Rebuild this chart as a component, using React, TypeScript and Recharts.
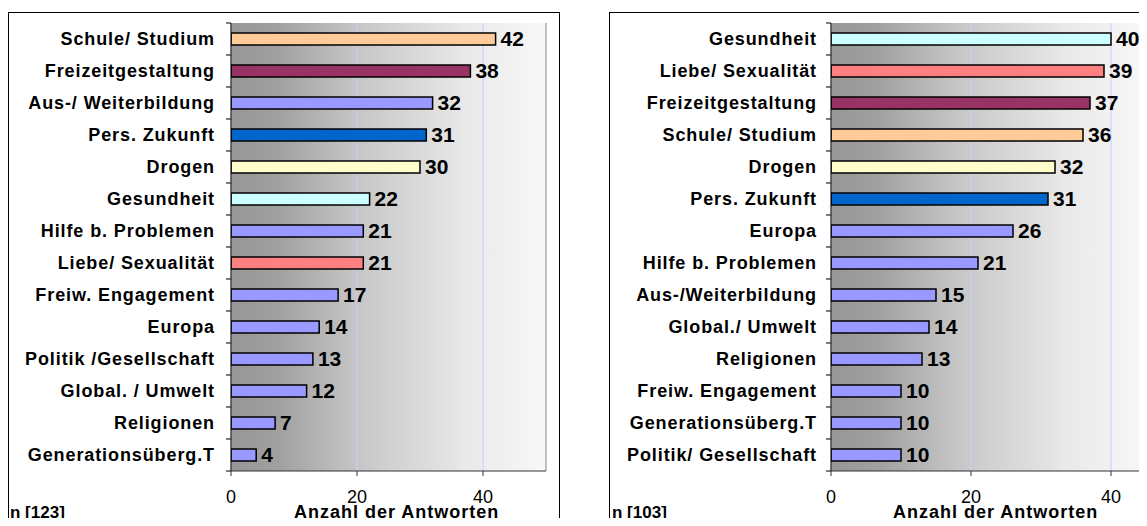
import React from 'react';
import { BarChart, Bar, XAxis, YAxis, CartesianGrid, LabelList, Cell, ReferenceLine } from 'recharts';

// ---- data ----
const leftTopics = [
  'Schule/ Studium', 'Freizeitgestaltung', 'Aus-/ Weiterbildung', 'Pers. Zukunft', 'Drogen',
  'Gesundheit', 'Hilfe b. Problemen', 'Liebe/ Sexualität', 'Freiw. Engagement', 'Europa',
  'Politik /Gesellschaft', 'Global. / Umwelt', 'Religionen', 'Generationsüberg.T',
];
const leftValues = [42, 38, 32, 31, 30, 22, 21, 21, 17, 14, 13, 12, 7, 4];
const leftKinds = ['schule', 'freizeit', 'other', 'zukunft', 'drogen', 'gesund', 'other', 'liebe', 'other', 'other', 'other', 'other', 'other', 'other'];

const rightTopics = [
  'Gesundheit', 'Liebe/ Sexualität', 'Freizeitgestaltung', 'Schule/ Studium', 'Drogen',
  'Pers. Zukunft', 'Europa', 'Hilfe b. Problemen', 'Aus-/Weiterbildung', 'Global./ Umwelt',
  'Religionen', 'Freiw. Engagement', 'Generationsüberg.T', 'Politik/ Gesellschaft',
];
const rightValues = [40, 39, 37, 36, 32, 31, 26, 21, 15, 14, 13, 10, 10, 10];
const rightKinds = ['gesund', 'liebe', 'freizeit', 'schule', 'drogen', 'zukunft', 'other', 'other', 'other', 'other', 'other', 'other', 'other', 'other'];

const xTicks = [0, 20, 40];
const leftN = 'n [123]';
const rightN = 'n [103]';
const axisTitle = 'Anzahl der Antworten';

// ---- styles ----
const kindColors: Record<string, string> = {
  schule: '#FFCC99',
  freizeit: '#993366',
  zukunft: '#0066CC',
  drogen: '#FFFFCC',
  gesund: '#CCFFFF',
  liebe: '#FF8080',
  other: '#9999FF',
};
const FONT = '"Liberation Sans", Arial, Helvetica, sans-serif';

function makeTick(band: number, margin: number) {
  return (props: any) => {
    const { x, y, payload, index, visibleTicksCount } = props;
    const ax = x + margin;
    const isLast = index === visibleTicksCount - 1;
    return (
      <g>
        <line x1={ax - 5} x2={ax} y1={y - band / 2} y2={y - band / 2} stroke="#000" strokeWidth={1} />
        {isLast && <line x1={ax - 5} x2={ax} y1={y + band / 2} y2={y + band / 2} stroke="#000" strokeWidth={1} />}
        <text x={x} y={y} dy="0.36em" textAnchor="end" fontFamily={FONT} fontWeight="bold" fontSize={18} letterSpacing={0.9} fill="#000">
          {payload.value}
        </text>
      </g>
    );
  };
}

interface PanelProps {
  id: string;
  topics: string[];
  values: number[];
  kinds: string[];
  max: number;
  left: number;
  width: number;
  yAxisWidth: number;
  marginRight: number;
  labelMargin: number;
}

function Panel({ id, topics, values, kinds, max, left, width, yAxisWidth, marginRight, labelMargin }: PanelProps) {
  const data = topics.map((t, i) => ({ topic: t, value: values[i], kind: kinds[i] }));
  const top = 23;
  const bottom = 471;
  const band = (bottom - top) / topics.length;
  return (
    <div style={{ position: 'absolute', left, top: 0 }}>
      <BarChart
        width={width}
        height={526}
        data={data}
        layout="vertical"
        margin={{ top, right: marginRight, bottom: 0, left: 0 }}
        barCategoryGap={0}
      >
        <defs>
          <linearGradient id={id} x1="0" y1="0" x2="1" y2="0">
            <stop offset="0" stopColor="#979797" />
            <stop offset="0.15" stopColor="#a0a0a0" />
            <stop offset="0.4" stopColor="#c6c6c6" />
            <stop offset="0.75" stopColor="#e9e9e9" />
            <stop offset="1" stopColor="#f8f8f8" />
          </linearGradient>
        </defs>
        <CartesianGrid horizontal={false} vertical stroke="#ccccff" fill={`url(#${id})`} fillOpacity={1} />
        <XAxis
          type="number"
          domain={[0, max]}
          ticks={xTicks}
          allowDataOverflow
          height={55}
          tickSize={5}
          tickMargin={14}
          axisLine={{ stroke: '#333' }}
          tickLine={{ stroke: '#333' }}
          tick={{ fill: '#000', fontSize: 18, fontFamily: FONT }}
        />
        <XAxis
          xAxisId="top"
          orientation="top"
          type="number"
          domain={[0, max]}
          height={0}
          tick={false}
          tickLine={false}
          axisLine={{ stroke: '#999' }}
        />
        <YAxis
          type="category"
          dataKey="topic"
          width={yAxisWidth}
          interval={0}
          tickSize={0}
          tickMargin={labelMargin}
          tickLine={false}
          axisLine={{ stroke: '#000' }}
          tick={makeTick(band, labelMargin)}
        />
        <ReferenceLine x={max} stroke="#999" ifOverflow="visible" />
        <Bar dataKey="value" barSize={12} stroke="#000" strokeWidth={1.5} isAnimationActive={false}>
          {data.map((d, i) => (
            <Cell key={i} fill={kindColors[d.kind]} />
          ))}
          <LabelList
            dataKey="value"
            position="right"
            offset={5}
            style={{ fontFamily: FONT, fontWeight: 'bold', fontSize: 21, fill: '#000' }}
          />
        </Bar>
      </BarChart>
    </div>
  );
}

const textStyle: React.CSSProperties = {
  position: 'absolute',
  fontFamily: FONT,
  fontWeight: 'bold',
  fontSize: 17,
  lineHeight: '17px',
  whiteSpace: 'nowrap',
  color: '#000',
};

export default function App() {
  return (
    <div style={{ position: 'relative', margin: -8, width: 1147, height: 526, overflow: 'hidden', background: '#fff' }}>
      <div style={{ position: 'absolute', left: 8, top: 12, width: 552, height: 600, border: '1px solid #000', boxSizing: 'border-box' }} />
      <div style={{ position: 'absolute', left: 609, top: 12, width: 600, height: 600, border: '1px solid #000', boxSizing: 'border-box' }} />
      <Panel id="gl" topics={leftTopics} values={leftValues} kinds={leftKinds} max={50} left={0} width={560} yAxisWidth={231} marginRight={14} labelMargin={16} />
      <Panel id="gr" topics={rightTopics} values={rightValues} kinds={rightKinds} max={45} left={600} width={547} yAxisWidth={231} marginRight={1} labelMargin={14} />
      <div style={{ ...textStyle, left: 10, top: 504 }}>{leftN}</div>
      <div style={{ ...textStyle, left: 294, top: 504, fontSize: 18, letterSpacing: 1 }}>{axisTitle}</div>
      <div style={{ ...textStyle, left: 612, top: 504 }}>{rightN}</div>
      <div style={{ ...textStyle, left: 893, top: 504, fontSize: 18, letterSpacing: 1 }}>{axisTitle}</div>
    </div>
  );
}
